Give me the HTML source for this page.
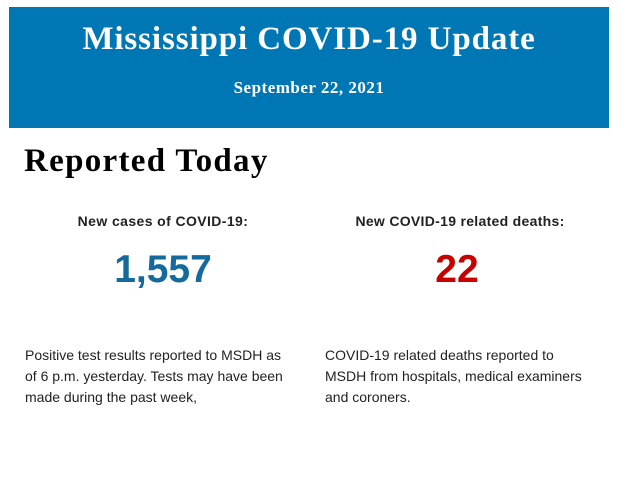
<!DOCTYPE html>
<html><head><meta charset="utf-8"><style>
body{margin:0;width:620px;height:483px;background:#fff;position:relative;overflow:hidden;font-family:"Liberation Sans",sans-serif;}
.a{position:absolute;white-space:nowrap;}
.hdr{position:absolute;left:9px;top:7px;width:600px;height:121px;background:#0077b5;}
.serif{font-family:"Liberation Serif",serif;font-weight:bold;}
.c{text-align:center;}
</style></head><body>
<div class="hdr"></div>
<div class="a serif c" style="left:9px;width:600px;top:20px;font-size:33px;letter-spacing:0.9px;color:#fff;line-height:38px;">Mississippi COVID-19 Update</div>
<div class="a serif c" style="left:9px;width:600px;top:78px;font-size:17px;letter-spacing:0.5px;color:#fff;line-height:20px;">September 22, 2021</div>
<div class="a serif" style="left:24px;top:142px;font-size:33px;letter-spacing:1.3px;color:#000;line-height:38px;">Reported Today</div>
<div class="a c" style="left:13px;width:300px;top:212px;font-size:14px;letter-spacing:0.4px;font-weight:bold;color:#222;line-height:18px;">New cases of COVID-19:</div>
<div class="a c" style="left:310px;width:300px;top:212px;font-size:14px;letter-spacing:0.3px;font-weight:bold;color:#222;line-height:18px;">New COVID-19 related deaths:</div>
<div class="a c" style="left:13px;width:300px;top:248px;font-size:39px;font-weight:bold;color:#146a9c;line-height:44px;">1,557</div>
<div class="a c" style="left:307px;width:300px;top:248px;font-size:39px;font-weight:bold;color:#c80000;line-height:44px;">22</div>
<div class="a" style="left:25px;top:345px;font-size:14px;color:#222;line-height:21px;">Positive test results reported to MSDH as<br>of 6 p.m. yesterday. Tests may have been<br>made during the past week,</div>
<div class="a" style="left:325px;top:345px;font-size:14px;color:#222;line-height:21px;">COVID-19 related deaths reported to<br>MSDH from hospitals, medical examiners<br>and coroners.</div>
</body></html>
